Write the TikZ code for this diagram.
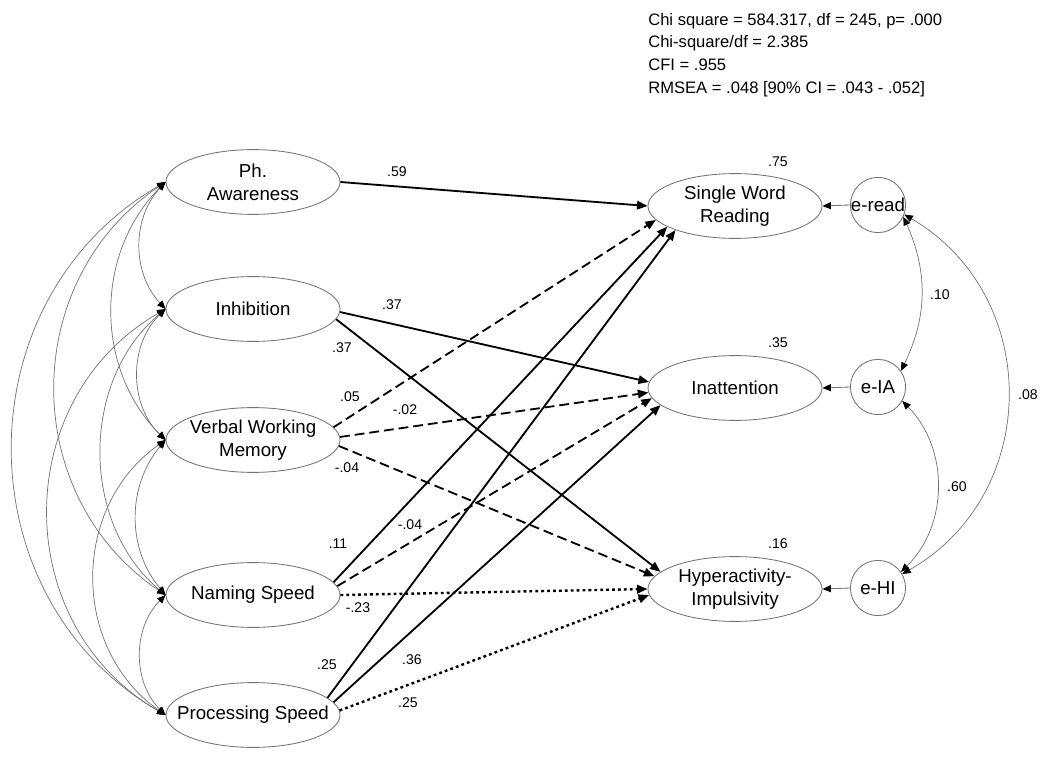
\documentclass[tikz,border=0pt]{standalone}
\usepackage{fontspec}
\setmainfont{Liberation Sans}
\usetikzlibrary{arrows.meta,shapes.geometric}
\tikzset{
 lat/.style={ellipse, draw=black!55, line width=0.6pt, minimum width=4.35cm, minimum height=1.62cm, inner sep=0pt},
 err/.style={circle, draw=black!55, line width=0.6pt, minimum size=1.38cm, inner sep=0pt},
 lbl/.style={font=\fontsize{13.3}{16.3}\selectfont, align=center, inner sep=0pt},
 coef/.style={font=\fontsize{10}{12}\selectfont, inner sep=0pt},
 pth/.style={line width=1.3pt, >={Triangle[length=7.5pt,width=6pt]}, ->},
 dsh/.style={pth, dash pattern=on 7pt off 3.5pt},
 dotp/.style={pth, line width=1.7pt, dash pattern=on 2pt off 2.2pt},
 cov/.style={draw=black!55, line width=0.5pt, >={Triangle[length=6pt,width=5pt,color=black]}, <->},
 ear/.style={draw=black!55, line width=0.6pt, >={Triangle[length=6pt,width=5pt,color=black]}, ->},
}
\begin{document}
\begin{tikzpicture}[x=0.025cm,y=0.025cm]
\useasboundingbox[fill=white] (0,0) rectangle (1050,758);
% latent predictors
\node[lat] (pa) at (253,576) {};
\node[lbl] (pat) at (pa) {Ph.\\Awareness};
\node[lat] (inh) at (253,449) {};
\node[lbl] (inht) at (inh) {Inhibition};
\node[lat] (vwm) at (253,318) {};
\node[lbl] (vwmt) at (vwm) {Verbal Working\\Memory};
\node[lat] (ns) at (253,163) {};
\node[lbl] (nst) at (ns) {Naming Speed};
\node[lat] (ps) at (253,43) {};
\node[lbl] (pst) at (ps) {Processing Speed};
% outcomes
\node[lat] (swr) at (735,552) {};
\node[lbl] (swrt) at (swr) {Single Word\\Reading};
\node[lat] (ia) at (735,370) {};
\node[lbl] (iat) at (ia) {Inattention};
\node[lat] (hi) at (735,169) {};
\node[lbl] (hit) at (hi) {Hyperactivity-\\Impulsivity};
% errors
\node[err] (eread) at (878,553) {};
\node[lbl] (ereadt) at (eread) {e-read};
\node[err] (eia) at (878,371) {};
\node[lbl] (eiat) at (eia) {e-IA};
\node[err] (ehi) at (878,170) {};
\node[lbl] (ehit) at (ehi) {e-HI};
% fit
\node[anchor=north west, align=left, inner sep=0pt, font=\fontsize{11.8}{16.1}\selectfont] (fit) at (648,745)
 {Chi square = 584.317, df = 245, p= .000\\Chi-square/df = 2.385\\CFI = .955\\RMSEA = .048 [90\% CI = .043 - .052]};
% paths
\draw[pth] (pa.0) -- (swr.180);
\draw[pth] (inh.-2) -- (ia.176);
\draw[pth] (inh.-7) -- (hi.167);
\draw[dsh] (vwm.9) -- (swr.-170);
\draw[dsh] (vwm.2) -- (ia.-177);
\draw[dsh] (vwm.-4) -- (hi.171);
\draw[pth] (ns.9) -- (swr.-163);
\draw[dsh] (ns.6) -- (ia.-173);
\draw[dotp] (ns.0) -- (hi.180);
\draw[pth] (ps.13) -- (swr.-158);
\draw[pth] (ps.9) -- (ia.-167);
\draw[dotp] (ps.3) -- (hi.-176);
% error arrows
\draw[ear] (eread.west) -- (swr.east);
\draw[ear] (eia.west) -- (ia.east);
\draw[ear] (ehi.west) -- (hi.east);
% error covariances
\draw[cov] (eread.-25) to[bend left=25] (eia.35);
\draw[cov] (eia.-30) to[bend left=45] (ehi.35);
\draw[cov] (eread.-20) to[bend left=60, looseness=1.14] (ehi.30);
% predictor covariances
\draw[cov] (pa.west) to[bend right=43] (inh.west);
\draw[cov] (pa.west) to[bend right=45] (vwm.west);
\draw[cov] (pa.west) to[bend right=56, looseness=1.1] (ns.west);
\draw[cov] (pa.west) to[bend right=60, looseness=1.13] (ps.west);
\draw[cov] (inh.west) to[bend right=46] (vwm.west);
\draw[cov] (inh.west) to[bend right=50] (ns.west);
\draw[cov] (inh.west) to[bend right=60, looseness=1.14] (ps.west);
\draw[cov] (vwm.west) to[bend right=40] (ns.west);
\draw[cov] (vwm.west) to[bend right=55, looseness=1.08] (ps.west);
\draw[cov] (ns.west) to[bend right=45] (ps.west);
% coefficients
\node[coef] (c1) at (397,586) {.59};
\node[coef] (c2) at (392,453) {.37};
\node[coef] (c3) at (342,410) {.37};
\node[coef] (c4) at (350,361) {.05};
\node[coef] (c5) at (405,348) {-.02};
\node[coef] (c6) at (347,290) {-.04};
\node[coef] (c7) at (410,233) {-.04};
\node[coef] (c8) at (338,214) {.11};
\node[coef] (c9) at (358,150) {-.23};
\node[coef] (c10) at (327,93) {.25};
\node[coef] (c11) at (412,98) {.36};
\node[coef] (c12) at (408,55) {.25};
\node[coef] (r1) at (778,596) {.75};
\node[coef] (r2) at (778,415) {.35};
\node[coef] (r3) at (778,214) {.16};
\node[coef] (e1) at (940,463) {.10};
\node[coef] (e2) at (957,271) {.60};
\node[coef] (e3) at (1028,363) {.08};
\end{tikzpicture}
\end{document}
